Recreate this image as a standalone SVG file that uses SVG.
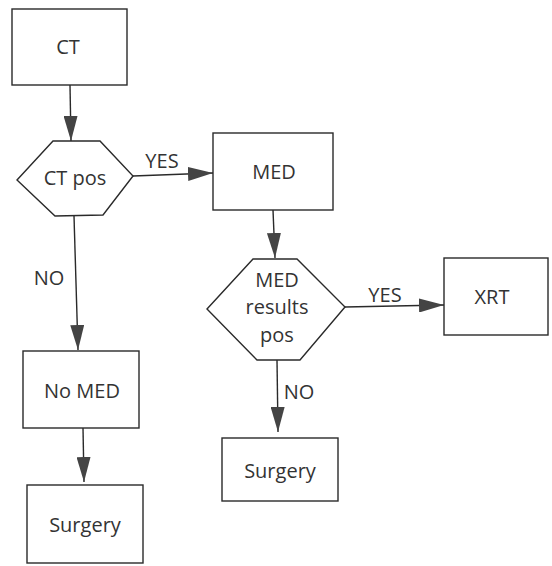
<svg xmlns="http://www.w3.org/2000/svg" width="552" height="566" viewBox="0 0 552 566">
<defs>
<style>
.box{fill:#fff;stroke:#2a2a2a;stroke-width:1.4}
.t{font-family:"Open Sans","Liberation Sans",sans-serif;font-size:20px;fill:#333;text-anchor:middle}
.lbl{font-family:"Open Sans","Liberation Sans",sans-serif;font-size:20px;fill:#333;text-anchor:middle}
.c{fill:none;stroke:#2a2a2a;stroke-width:1.4}
</style>
<marker id="ah" viewBox="0 0 25 14" refX="25" refY="7" markerWidth="25" markerHeight="14" markerUnits="userSpaceOnUse" orient="auto">
<path d="M0,0 L25,7 L0,14 Z" fill="#444"/>
</marker>
</defs>
<rect width="552" height="566" fill="#fff"/>
<g id="connectors">
<line class="c" x1="70" y1="85" x2="71" y2="141" marker-end="url(#ah)"/>
<line class="c" x1="133" y1="176" x2="213" y2="173" marker-end="url(#ah)"/>
<line class="c" x1="74" y1="216" x2="78" y2="350" marker-end="url(#ah)"/>
<line class="c" x1="273" y1="210" x2="275" y2="258" marker-end="url(#ah)"/>
<line class="c" x1="345" y1="307" x2="444" y2="305" marker-end="url(#ah)"/>
<line class="c" x1="277" y1="360" x2="278" y2="432" marker-end="url(#ah)"/>
<line class="c" x1="83" y1="428" x2="84" y2="482" marker-end="url(#ah)"/>
<text class="lbl" x="162" y="168">YES</text>
<text class="lbl" x="49" y="285">NO</text>
<text class="lbl" x="385" y="302">YES</text>
<text class="lbl" x="299" y="399">NO</text>
</g>
<g id="ct">
<rect class="box" x="12" y="9" width="115" height="76"/>
<text class="t" x="68" y="54">CT</text>
</g>
<g id="ctpos">
<polygon class="box" points="17,180 53,141 100,141 133,176 103,215 55,216"/>
<text class="t" x="75" y="185">CT pos</text>
</g>
<g id="med">
<rect class="box" x="213" y="133" width="120" height="77"/>
<text class="t" x="274" y="179">MED</text>
</g>
<g id="medpos">
<polygon class="box" points="207,309 253,259 297,259 345,307 300,360 257,360"/>
<text class="t" x="277" y="287">MED</text>
<text class="t" x="277" y="314">results</text>
<text class="t" x="277" y="342">pos</text>
</g>
<g id="xrt">
<rect class="box" x="444" y="258" width="104" height="77"/>
<text class="t" x="492" y="304">XRT</text>
</g>
<g id="nomed">
<rect class="box" x="23" y="351" width="116" height="77"/>
<text class="t" x="82" y="398">No MED</text>
</g>
<g id="surgery1">
<rect class="box" x="27" y="485" width="116" height="78"/>
<text class="t" x="85" y="532">Surgery</text>
</g>
<g id="surgery2">
<rect class="box" x="222" y="438" width="116" height="63"/>
<text class="t" x="280" y="478">Surgery</text>
</g>
</svg>
